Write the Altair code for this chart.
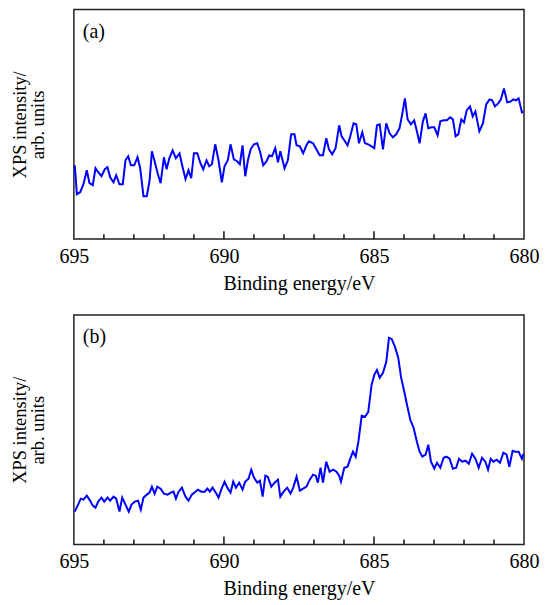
import altair as alt
import pandas as pd

# ---- data (binding energy in eV, intensity in arb. units) ----
energy_a = [694.97, 694.90, 694.79, 694.68, 694.57, 694.48, 694.37, 694.28, 694.19, 694.08,
            693.97, 693.88, 693.79, 693.68, 693.59, 693.48, 693.37, 693.28, 693.19, 693.10,
            692.99, 692.88, 692.79, 692.68, 692.57, 692.48, 692.40, 692.31, 692.20, 692.11,
            692.00, 691.91, 691.82, 691.71, 691.60, 691.48, 691.40, 691.28, 691.18, 691.09,
            691.00, 690.89, 690.78, 690.69, 690.58, 690.49, 690.40, 690.29, 690.18, 690.07,
            689.98, 689.87, 689.78, 689.67, 689.56, 689.47, 689.38, 689.29, 689.20, 689.11,
            689.00, 688.89, 688.80, 688.69, 688.58, 688.49, 688.40, 688.29, 688.20, 688.12,
            687.98, 687.87, 687.76, 687.65, 687.58, 687.47, 687.36, 687.25, 687.17, 687.03,
            686.92, 686.81, 686.70, 686.59, 686.50, 686.39, 686.28, 686.16, 686.08, 685.99,
            685.88, 685.79, 685.68, 685.59, 685.50, 685.39, 685.30, 685.19, 685.08, 684.99,
            684.90, 684.81, 684.70, 684.59, 684.48, 684.37, 684.26, 684.15, 684.06, 683.97,
            683.88, 683.77, 683.66, 683.57, 683.48, 683.37, 683.28, 683.19, 683.08, 682.99,
            682.88, 682.79, 682.68, 682.57, 682.46, 682.37, 682.28, 682.19, 682.09, 682.00,
            681.91, 681.80, 681.71, 681.62, 681.49, 681.37, 681.26, 681.15, 681.06, 680.97,
            680.86, 680.77, 680.67, 680.56, 680.44, 680.36, 680.27, 680.18, 680.07, 680.02]
intensity_a = [74, 45, 47, 55, 69, 56, 54, 71, 67, 63,
               70, 72, 62, 57, 64, 55, 55, 79, 83, 74,
               74, 82, 71, 43, 43, 58, 88, 78, 65, 56,
               82, 70, 81, 89, 81, 86, 75, 60, 69, 61,
               86, 86, 76, 70, 79, 73, 75, 95, 79, 57,
               73, 79, 95, 80, 78, 75, 94, 63, 79, 90,
               95, 96, 88, 74, 78, 84, 83, 91, 77, 88,
               71, 79, 105, 105, 94, 93, 86, 94, 98, 96,
               90, 84, 84, 101, 90, 85, 91, 114, 103, 99,
               94, 103, 116, 115, 96, 107, 96, 95, 93, 91,
               114, 115, 90, 116, 106, 102, 105, 111, 125, 141,
               120, 115, 119, 108, 96, 118, 126, 111, 112, 112,
               104, 118, 119, 119, 122, 120, 103, 105, 120, 117,
               129, 133, 123, 128, 108, 116, 135, 140, 139, 133,
               136, 140, 151, 137, 138, 140, 139, 141, 127, 128]

energy_b = [694.97, 694.86, 694.77, 694.68, 694.57, 694.46, 694.37, 694.28, 694.19, 694.08,
            693.99, 693.88, 693.79, 693.68, 693.59, 693.48, 693.39, 693.28, 693.17, 693.08,
            692.97, 692.86, 692.77, 692.68, 692.57, 692.48, 692.40, 692.31, 692.22, 692.11,
            692.00, 691.88, 691.77, 691.68, 691.60, 691.51, 691.40, 691.28, 691.18, 691.07,
            690.95, 690.87, 690.75, 690.64, 690.55, 690.47, 690.38, 690.27, 690.18, 690.09,
            689.98, 689.89, 689.78, 689.69, 689.60, 689.49, 689.38, 689.29, 689.18, 689.09,
            689.00, 688.89, 688.80, 688.71, 688.62, 688.54, 688.42, 688.31, 688.20, 688.12,
            688.01, 687.89, 687.78, 687.69, 687.58, 687.47, 687.36, 687.25, 687.14, 687.03,
            686.94, 686.87, 686.78, 686.70, 686.59, 686.48, 686.36, 686.25, 686.16, 686.10,
            685.99, 685.88, 685.79, 685.70, 685.61, 685.52, 685.41, 685.30, 685.19, 685.08,
            684.99, 684.90, 684.81, 684.70, 684.59, 684.50, 684.41, 684.30, 684.19, 684.10,
            683.99, 683.90, 683.79, 683.68, 683.57, 683.48, 683.39, 683.28, 683.19, 683.10,
            682.99, 682.90, 682.79, 682.68, 682.59, 682.48, 682.37, 682.26, 682.17, 682.06,
            681.95, 681.84, 681.73, 681.62, 681.51, 681.40, 681.29, 681.20, 681.11, 681.02,
            680.91, 680.80, 680.69, 680.58, 680.49, 680.38, 680.29, 680.18, 680.07, 680.02]
intensity_b = [33, 40, 46, 45, 49, 44, 39, 37, 43, 47,
               43, 47, 44, 48, 46, 33, 47, 40, 33, 40,
               43, 44, 35, 47, 50, 52, 58, 51, 58, 56,
               51, 50, 52, 53, 46, 53, 57, 48, 44, 50,
               53, 55, 53, 53, 56, 53, 57, 52, 47, 55,
               63, 57, 52, 63, 57, 62, 55, 63, 66, 75,
               67, 62, 64, 48, 69, 68, 58, 62, 65, 48,
               53, 57, 51, 57, 68, 54, 56, 58, 65, 70,
               69, 62, 77, 62, 83, 73, 75, 73, 69, 63,
               77, 78, 86, 93, 88, 103, 129, 128, 133, 160,
               170, 175, 167, 172, 183, 207, 206, 198, 187, 168,
               153, 140, 125, 117, 103, 93, 88, 90, 100, 83,
               76, 82, 77, 87, 88, 86, 76, 77, 86, 83,
               84, 81, 91, 86, 77, 87, 83, 75, 86, 83,
               85, 82, 92, 90, 78, 94, 93, 93, 86, 91]

tick_labels = [695, 690, 685, 680]
minor_ticks = [694, 693, 692, 691, 689, 688, 687, 686, 684, 683, 682, 681]
major_ticks = [690, 685]
panel_labels = ["(a)", "(b)"]

FONT = "Liberation Serif"
W, H = 451, 230

xscale = alt.Scale(domain=[680, 695], reverse=True, nice=False, zero=False)
yscale = alt.Scale(domain=[0, 230], nice=False, zero=False)


def panel(energy, intensity, label):
    df = pd.DataFrame({"E": energy, "I": intensity})
    line = alt.Chart(df).mark_line(color="#0000ff", strokeWidth=2).encode(
        x=alt.X("E:Q", scale=xscale,
                axis=alt.Axis(values=tick_labels, title="Binding energy/eV", ticks=False,
                              domain=False, grid=False, labelPadding=7, titlePadding=7,
                              labelFontSize=20, titleFontSize=20, labelFont=FONT,
                              titleFont=FONT, titleFontWeight="normal", labelColor="black",
                              titleColor="black", labelFlush=False)),
        y=alt.Y("I:Q", scale=yscale,
                axis=alt.Axis(title=["XPS intensity/", "arb. units"], labels=False, ticks=False,
                              domain=False, grid=False, titleFont=FONT, titleFontSize=18.5,
                              titleFontWeight="normal", titleColor="black", titlePadding=26,
                              titleLineHeight=18)),
    )
    minor = alt.Chart(pd.DataFrame({"E": minor_ticks})).mark_rule(
        color="#111", strokeWidth=1.5).encode(
        x=alt.X("E:Q", scale=xscale), y=alt.value(H), y2=alt.value(H - 5))
    major = alt.Chart(pd.DataFrame({"E": major_ticks})).mark_rule(
        color="#111", strokeWidth=1.5).encode(
        x=alt.X("E:Q", scale=xscale), y=alt.value(H), y2=alt.value(H - 8))
    txt = alt.Chart(pd.DataFrame({"t": [label]})).mark_text(
        align="left", baseline="middle", font=FONT, fontSize=20, color="black").encode(
        x=alt.value(9), y=alt.value(22), text="t:N")
    return alt.layer(line, minor, major, txt).properties(width=W, height=H)


chart = alt.vconcat(
    panel(energy_a, intensity_a, panel_labels[0]),
    panel(energy_b, intensity_b, panel_labels[1]),
    spacing=20,
).properties(padding={"left": 2, "top": 0, "right": 0, "bottom": 0}).configure_view(
    stroke="#222", strokeWidth=1.5)

chart.save("out.html", embed_options={"renderer": "svg", "actions": False})
